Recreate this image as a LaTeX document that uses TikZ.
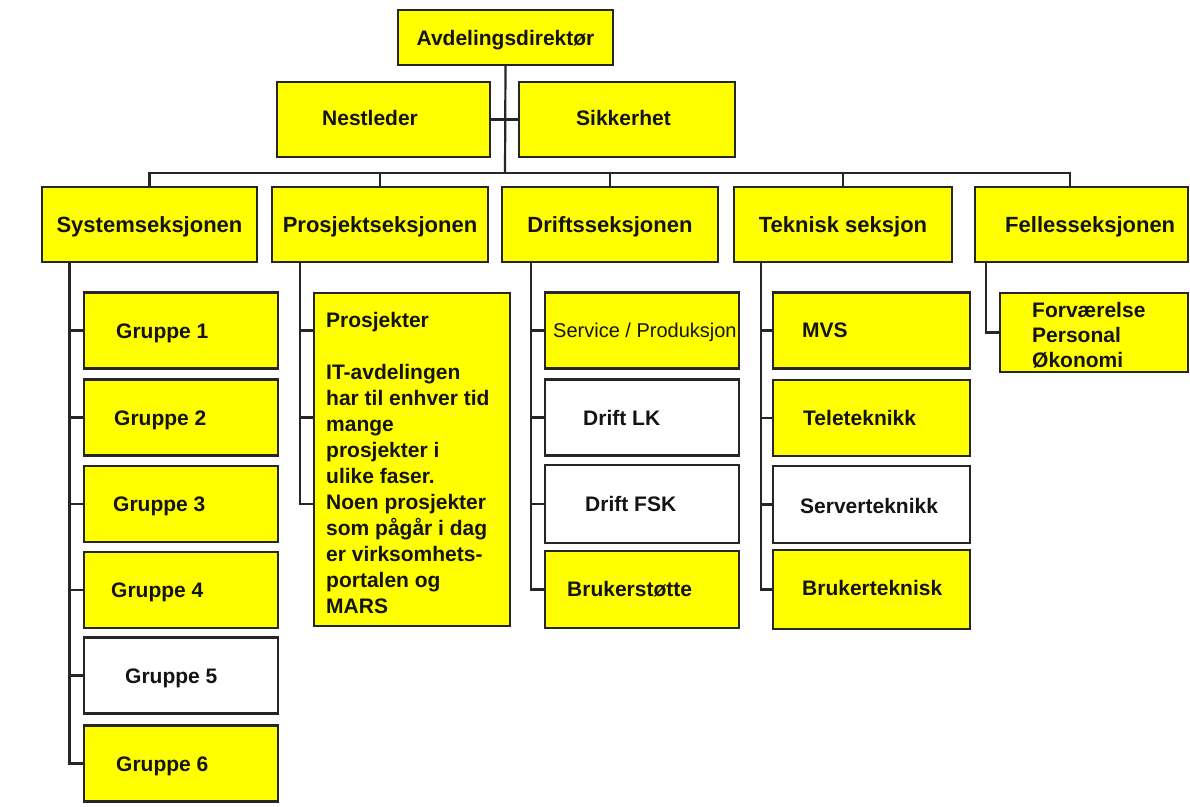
\documentclass[tikz,border=0pt]{standalone}
\usepackage{fontspec}
\setmainfont{Liberation Sans}
\definecolor{yel}{HTML}{FFFF00}
\definecolor{edge}{HTML}{262626}
\definecolor{ink}{HTML}{141414}
\tikzset{
  box/.style={draw=edge, line width=2.2pt, fill=yel, inner sep=0pt, text=ink},
  wbox/.style={box, fill=white},
  bf21/.style={font=\fontsize{21}{26}\selectfont\bfseries},
  bf22/.style={font=\fontsize{22}{27}\selectfont\bfseries},
  lbl/.style={bf21, text=ink, anchor=west, inner sep=0pt, text height=15pt, text depth=0pt},
  lblreg/.style={font=\fontsize{20}{24}\selectfont, text=ink, anchor=west, inner sep=0pt, text height=14.3pt, text depth=0pt},
  lbl22/.style={bf22, text=ink, anchor=west, inner sep=0pt, text height=15.75pt, text depth=0pt},
  sec/.style={box, bf22, minimum height=75pt, text height=15.75pt, text depth=0pt},
  gbox/.style={minimum width=194pt, minimum height=76pt},
  tbox/.style={minimum width=197pt, minimum height=76pt},
  conn/.style={draw=edge, line width=2.2pt}
}
\begin{document}
\begin{tikzpicture}[x=1pt,y=-1pt]
\useasboundingbox (0,0) rectangle (1190,806);
\fill[white] (0,0) rectangle (1190,806);

% --- management
\node[box, bf21, minimum width=215pt, minimum height=55pt, text height=15pt, text depth=0pt] (top) at (505.5,37.5) {Avdelingsdirektør};
\node[box, minimum width=213pt, minimum height=75pt] (nest) at (383.5,119.5) {};
\node[lbl] (nestL) at (322,118) {Nestleder};
\node[box, minimum width=216pt, minimum height=75pt] (sikk) at (627,119.5) {};
\node[lbl] (sikkL) at (576,118) {Sikkerhet};

% --- sections
\node[sec, minimum width=215pt] (sys) at (149.5,224.5) {Systemseksjonen};
\node[sec, minimum width=216pt] (pro) at (380,224.5) {Prosjektseksjonen};
\node[sec, minimum width=216pt] (dri) at (610,224.5) {Driftsseksjonen};
\node[sec, minimum width=218pt] (tek) at (843,224.5) {Teknisk seksjon};
\node[sec, minimum width=213pt] (fel) at (1081.5,224.5) {};
\node[lbl22] (felL) at (1005,224.5) {Fellesseksjonen};

% --- Systemseksjonen groups
\node[box, gbox] (g1) at (181,330.5) {};
\node[box, gbox] (g2) at (181,417.5) {};
\node[box, gbox] (g3) at (181,504) {};
\node[box, gbox] (g4) at (181,590) {};
\node[wbox, gbox] (g5) at (181,675.5) {};
\node[box, gbox] (g6) at (181,763.5) {};
\node[lbl] (g1L) at (116,331) {Gruppe 1};
\node[lbl] (g2L) at (114,418) {Gruppe 2};
\node[lbl] (g3L) at (113,504) {Gruppe 3};
\node[lbl] (g4L) at (111,590) {Gruppe 4};
\node[lbl] (g5L) at (125,676) {Gruppe 5};
\node[lbl] (g6L) at (116,764) {Gruppe 6};

% --- Prosjektseksjonen
\node[box, minimum width=196pt, minimum height=333pt] (pj) at (412,459.5) {};
\node[bf21, text=ink, anchor=north west, inner sep=0pt, align=left] (pjL) at (326,312.5)
  {Prosjekter\\[26pt]IT-avdelingen\\har til enhver tid\\mange\\prosjekter i\\ulike faser.\\Noen prosjekter\\som pågår i dag\\er virksomhets-\\portalen og\\MARS};

% --- Driftsseksjonen
\node[box, gbox] (d1) at (642,330.5) {};
\node[wbox, gbox] (d2) at (642,417.5) {};
\node[wbox, gbox, minimum height=78pt] (d3) at (642,504) {};
\node[box, gbox, minimum height=77pt] (d4) at (642,589.5) {};
\node[lblreg] (d1L) at (553,330) {Service / Produksjon};
\node[lbl] (d2L) at (583,418) {Drift LK};
\node[lbl] (d3L) at (585,504) {Drift FSK};
\node[lbl] (d4L) at (567,589) {Brukerstøtte};

% --- Teknisk seksjon
\node[box, tbox] (t1) at (871.5,330.5) {};
\node[box, tbox] (t2) at (871.5,418) {};
\node[wbox, tbox, minimum height=77pt] (t3) at (871.5,504.5) {};
\node[box, tbox, minimum height=79pt] (t4) at (871.5,589.5) {};
\node[lbl] (t1L) at (802,330) {MVS};
\node[lbl] (t2L) at (803,418) {Teleteknikk};
\node[lbl] (t3L) at (800,506) {Serverteknikk};
\node[lbl] (t4L) at (802,588) {Brukerteknisk};

% --- Fellesseksjonen
\node[box, minimum width=188pt, minimum height=79pt] (fc) at (1094,332.5) {};
\node[text=ink, anchor=north west, inner sep=0pt, align=left,
      font=\fontsize{21}{25}\selectfont\bfseries] (fcL) at (1032,302.5)
  {Forværelse\\Personal\\Økonomi};

% --- connectors
\coordinate (bus) at (505,173);
\coordinate (busR) at (1070,173);
\coordinate (sysS) at (69.5,262);
\coordinate (proS) at (300,262);
\coordinate (driS) at (531,262);
\coordinate (tekS) at (761,262);
\coordinate (felS) at (986,262);

\draw[conn] (top.south) -- (bus);
\draw[conn] (nest.east) -- (sikk.west);
\draw[conn] (sys.north) -- (sys.north |- bus) -- (busR) -- (busR |- fel.north);
\draw[conn] (pro.north) -- (pro.north |- bus);
\draw[conn] (dri.north) -- (dri.north |- bus);
\draw[conn] (tek.north) -- (tek.north |- bus);

\draw[conn] (sysS) |- (g6.west);
\foreach \n in {g1,g2,g3,g4,g5} \draw[conn] (sysS |- \n.west) -- (\n.west);

\draw[conn] (proS) |- (pj.west |- g3.west);
\draw[conn] (proS |- g1.west) -- (pj.west |- g1.west);
\draw[conn] (proS |- g2.west) -- (pj.west |- g2.west);

\draw[conn] (driS) |- (d4.west);
\foreach \n in {d1,d2,d3} \draw[conn] (driS |- \n.west) -- (\n.west);

\draw[conn] (tekS) |- (t4.west);
\foreach \n in {t1,t2,t3} \draw[conn] (tekS |- \n.west) -- (\n.west);

\draw[conn] (felS) |- (fc.west);
\end{tikzpicture}
\end{document}
